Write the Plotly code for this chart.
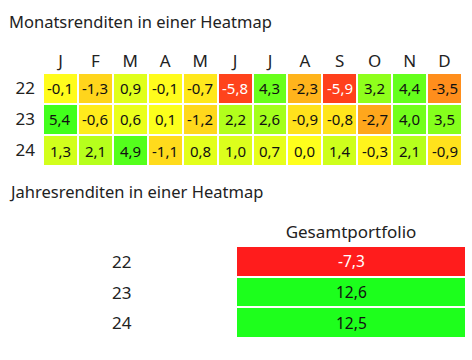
import plotly.graph_objects as go

months = ["J", "F", "M", "A", "M", "J", "J", "A", "S", "O", "N", "D"]
years = ["22", "23", "24"]
monthly = [
    [-0.1, -1.3, 0.9, -0.1, -0.7, -5.8, 4.3, -2.3, -5.9, 3.2, 4.4, -3.5],
    [5.4, -0.6, 0.6, 0.1, -1.2, 2.2, 2.6, -0.9, -0.8, -2.7, 4.0, 3.5],
    [1.3, 2.1, 4.9, -1.1, 0.8, 1.0, 0.7, 0.0, 1.4, -0.3, 2.1, -0.9],
]
annual_col = ["Gesamtportfolio"]
annual = [[-7.3], [12.6], [12.5]]

W, H = 472, 360
FONT = "Segoe UI, Noto Sans, sans-serif"
RED, YEL, GRN = "#FF1C1C", "#FFFF1C", "#1CFF1C"


def fmt(v):
    return f"{v:.1f}".replace(".", ",")


def px(x):
    return x / W


def py(y):
    return 1 - y / H


fig = go.Figure()

# top heatmap
top_min, top_max = -7.0, 6.5
fig.add_trace(go.Heatmap(
    z=monthly, x=list(range(len(months))), y=list(range(len(years))),
    colorscale=[[0, RED], [(0 - top_min) / (top_max - top_min), YEL], [1, GRN]],
    zmin=top_min, zmax=top_max, showscale=False, xgap=2, ygap=2,
    hoverinfo="skip", xaxis="x", yaxis="y",
))

# bottom heatmap
bot_min, bot_max = -7.3, 12.6
fig.add_trace(go.Heatmap(
    z=annual, x=[0], y=list(range(len(years))),
    colorscale=[[0, RED], [(0 - bot_min) / (bot_max - bot_min), YEL], [1, GRN]],
    zmin=bot_min, zmax=bot_max, showscale=False, xgap=0, ygap=2,
    hoverinfo="skip", xaxis="x2", yaxis="y2",
))

annotations = []
for r, row in enumerate(monthly):
    for c, v in enumerate(row):
        annotations.append(dict(
            x=c, y=r, xref="x", yref="y", text=fmt(v), showarrow=False,
            font=dict(family=FONT, size=15, color="white" if v < -5 else "#111"),
        ))
for r, row in enumerate(annual):
    for c, v in enumerate(row):
        annotations.append(dict(
            x=c, y=r, xref="x2", yref="y2", text=fmt(v), showarrow=False,
            font=dict(family=FONT, size=15.5, color="white" if v < -5 else "#111"),
        ))
for r, yv in enumerate(years):
    annotations.append(dict(
        x=px(122), y=r, xref="paper", yref="y2", xanchor="center", text=yv,
        showarrow=False, font=dict(family=FONT, size=17, color="#222"),
    ))

annotations.append(dict(
    x=px(7), y=py(8), xref="paper", yref="paper", xanchor="left", yanchor="top",
    text="Monatsrenditen in einer Heatmap", showarrow=False,
    font=dict(family=FONT, size=16.5, color="#222"),
))
annotations.append(dict(
    x=px(7), y=py(178), xref="paper", yref="paper", xanchor="left", yanchor="top",
    text="Jahresrenditen in einer Heatmap", showarrow=False,
    font=dict(family=FONT, size=16.5, color="#222"),
))

axis_common = dict(showgrid=False, zeroline=False, showline=False, ticks="",
                   tickfont=dict(family=FONT, size=17, color="#222"), fixedrange=True)

fig.update_layout(
    width=W, height=H, margin=dict(l=0, r=0, t=0, b=0),
    paper_bgcolor="white", plot_bgcolor="white",
    xaxis=dict(domain=[px(43), px(462)], side="top", tickmode="array",
               tickvals=list(range(len(months))), ticktext=months,
               range=[-0.5, len(months) - 0.5], anchor="y", ticklabelstandoff=2,
               **axis_common),
    yaxis=dict(domain=[py(166), py(73)], tickmode="array",
               tickvals=list(range(len(years))), ticktext=years,
               range=[len(years) - 0.5, -0.5], anchor="x", ticklabelstandoff=7,
               **axis_common),
    xaxis2=dict(domain=[px(237), px(465)], side="top", tickmode="array",
                tickvals=[0], ticktext=annual_col, range=[-0.5, 0.5],
                anchor="y2", ticklabelstandoff=4, **axis_common),
    yaxis2=dict(domain=[py(338), py(246)], range=[len(years) - 0.5, -0.5],
                showticklabels=False, anchor="x2", **axis_common),
    annotations=annotations,
    showlegend=False,
)

fig.write_html(
    "out.html",
    config={"displayModeBar": False},
    post_script="document.body.style.margin='0';document.body.style.padding='0';",
)
